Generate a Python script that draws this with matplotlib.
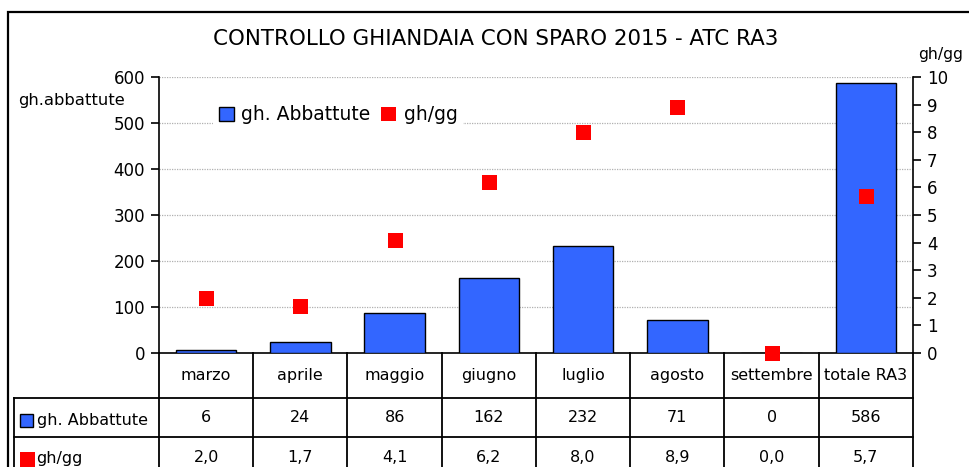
import matplotlib.pyplot as plt
from matplotlib.lines import Line2D
from matplotlib.patches import Rectangle
from matplotlib.transforms import blended_transform_factory

mesi = ['marzo', 'aprile', 'maggio', 'giugno', 'luglio', 'agosto', 'settembre', 'totale RA3']
abbattute = [6, 24, 86, 162, 232, 71, 0, 586]
gh_gg = [2.0, 1.7, 4.1, 6.2, 8.0, 8.9, 0.0, 5.7]

BLU = '#3366ff'
ROSSO = '#ff0000'
FONT = 'DejaVu Sans'
plt.rcParams['font.family'] = FONT

W, H = 970, 467
fig = plt.figure(figsize=(W / 100, H / 100), dpi=100)


def fx(px):
    return px / W


def fy(py):
    return 1 - py / H


# area del grafico in pixel
left, right, top, bottom = 159, 913, 77, 353
ax = fig.add_axes([fx(left), fy(bottom), fx(right) - fx(left), fy(top) - fy(bottom)])
ax2 = ax.twinx()

x = range(len(mesi))
ax.bar(x, abbattute, width=0.64, color=BLU, edgecolor='black', linewidth=1.0, zorder=3)
ax2.plot(x, gh_gg, linestyle='none', marker='s', markersize=10.8, color=ROSSO,
         markeredgewidth=0, zorder=4, clip_on=False)

ax.set_xlim(-0.5, len(mesi) - 0.5)
ax.set_ylim(0, 600)
ax.set_yticks(range(0, 601, 100))
ax2.set_ylim(0, 10)
ax2.set_yticks(range(0, 11))
ax.set_xticks([])

for v in range(100, 601, 100):
    ax.axhline(v, color='#b0b0b0', linestyle=(0, (1, 1)), linewidth=0.9, zorder=1)

for a in (ax, ax2):
    for s in a.spines.values():
        s.set_visible(False)
ax.spines['left'].set_visible(True)
ax.spines['bottom'].set_visible(True)
ax2.spines['right'].set_visible(True)
for s in (ax.spines['left'], ax.spines['bottom'], ax2.spines['right']):
    s.set_linewidth(1.2)
    s.set_color('black')

ax.tick_params(axis='y', direction='out', length=6, width=1.2, labelsize=12, pad=4)
ax2.tick_params(axis='y', direction='out', length=6, width=1.2, labelsize=12, pad=4)

fig.text(fx(496), fy(39), 'CONTROLLO GHIANDAIA CON SPARO 2015 - ATC RA3',
         ha='center', va='center', fontsize=15.4)
fig.text(fx(18), fy(100), 'gh.abbattute', ha='left', va='center', fontsize=11.8)
fig.text(fx(941), fy(55), 'gh/gg', ha='center', va='center', fontsize=11.3)

# legenda
h1 = Rectangle((0, 0), 1, 1, facecolor=BLU, edgecolor='black', linewidth=1.0)
h2 = Rectangle((0, 0), 1, 1, facecolor=ROSSO, edgecolor='none')
leg = ax.legend([h1, h2], ['gh. Abbattute', 'gh/gg'], ncol=2, fontsize=13.5,
                loc='center left', bbox_to_anchor=(fx(204), fy(115)),
                bbox_transform=fig.transFigure, frameon=True, fancybox=False,
                handlelength=0.8, handleheight=0.8, handletextpad=0.4,
                columnspacing=0.55, borderpad=0.3)
leg.get_frame().set_facecolor('white')
leg.get_frame().set_edgecolor('none')
leg.get_frame().set_alpha(1)
leg.set_zorder(5)

# tabella dati sotto il grafico
tr = blended_transform_factory(ax.transData, fig.transFigure)
lw = 1.3
fs = 11.5
n = len(mesi)
row1, row2, row3, row_end = 353, 398, 437, 480
for i in range(n + 1):
    fig.add_artist(Line2D([i - 0.5, i - 0.5], [fy(row1), fy(row_end)], transform=tr,
                          color='black', linewidth=lw, clip_on=False))
for yy in (row2, row3):
    fig.add_artist(Line2D([fx(14), fx(right)], [fy(yy), fy(yy)], transform=fig.transFigure,
                          color='black', linewidth=lw))
fig.add_artist(Line2D([fx(14), fx(14)], [fy(row2), fy(row_end)], transform=fig.transFigure,
                      color='black', linewidth=lw))

for i in range(n):
    fig.text(i, fy((row1 + row2) / 2), mesi[i], transform=tr, ha='center', va='center',
             fontsize=fs)
    fig.text(i, fy((row2 + row3) / 2), str(abbattute[i]), transform=tr, ha='center',
             va='center', fontsize=fs)
    fig.text(i, fy(457), f'{gh_gg[i]:.1f}'.replace('.', ','), transform=tr, ha='center',
             va='center', fontsize=fs)

fig.add_artist(Rectangle((fx(20), fy(427)), fx(13), 13 / H, transform=fig.transFigure,
                         facecolor=BLU, edgecolor='black', linewidth=1.0))
fig.add_artist(Rectangle((fx(20), fy(467)), fx(15), 15 / H, transform=fig.transFigure,
                         facecolor=ROSSO, edgecolor='none'))
fig.text(fx(37), fy(421), 'gh. Abbattute', ha='left', va='center', fontsize=fs)
fig.text(fx(36), fy(458), 'gh/gg', ha='left', va='center', fontsize=fs)

# cornice esterna
fig.add_artist(Rectangle((fx(8), -0.1), 1.2, fy(12) + 0.1, transform=fig.transFigure,
                         facecolor='none', edgecolor='black', linewidth=1.6))

fig.savefig('out.png', dpi=100)
